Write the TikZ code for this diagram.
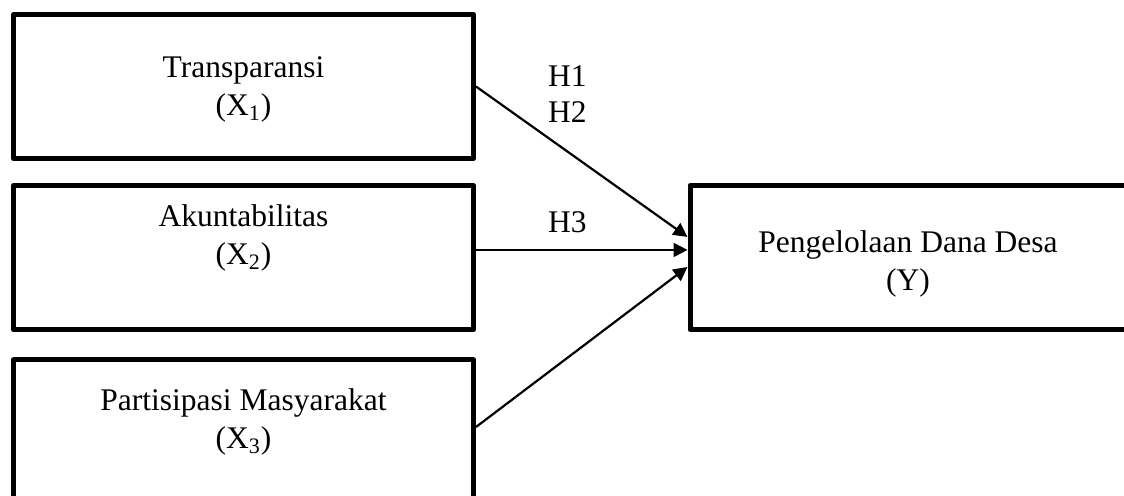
\documentclass[tikz,border=0pt]{standalone}
\usepackage{fontspec}
\setmainfont{Liberation Serif}
\usetikzlibrary{arrows.meta}

\tikzset{
  varbox/.style={draw, line width=2.5pt, line join=round, inner sep=0pt},
  vartext/.style={align=center, font=\fontsize{15.75}{19}\selectfont, anchor=base},
  hyp/.style={-{Triangle[length=7pt,width=7pt]}, line width=1.1pt},
}

\begin{document}
\begin{tikzpicture}[x=0.5pt,y=-0.5pt]
  \useasboundingbox (0,0) rectangle (1124,496);
  \clip (0,0) rectangle (1124,496);

  % variable boxes
  \node[varbox,minimum width=230pt,minimum height=72pt] (tr) at (243.5,86.5) {};
  \node[varbox,minimum width=230pt,minimum height=72pt] (ak) at (243.5,257.75) {};
  \node[varbox,minimum width=230pt,minimum height=100pt] (pa) at (243.5,460) {};
  \node[varbox,minimum width=235pt,minimum height=72pt] (pg) at (925,257.75) {};

  % texts (base = last line)
  \node[vartext] (trt) at (243.5,116) {Transparansi\\(X\textsubscript{1})};
  \node[vartext] (akt) at (243.5,265) {Akuntabilitas\\(X\textsubscript{2})};
  \node[vartext] (pat) at (243.5,449) {Partisipasi Masyarakat\\(X\textsubscript{3})};
  \node[vartext] (pgt) at (908,291) {Pengelolaan Dana Desa\\(Y)};

  % hypotheses
  \draw[hyp] (tr.east) -- ([yshift=10.4pt]pg.west);
  \draw[hyp] ([yshift=3.9pt]ak.east) -- ([yshift=3.9pt]pg.west);
  \draw[hyp] ([yshift=16.5pt]pa.east) -- ([yshift=-4.6pt]pg.west);

  \node[vartext,align=left,anchor=base west,font=\fontsize{15.75}{18}\selectfont] (h12) at (541,123) {H1\\H2};
  \node[vartext,anchor=base west] (h3) at (541,233) {H3};
\end{tikzpicture}
\end{document}
